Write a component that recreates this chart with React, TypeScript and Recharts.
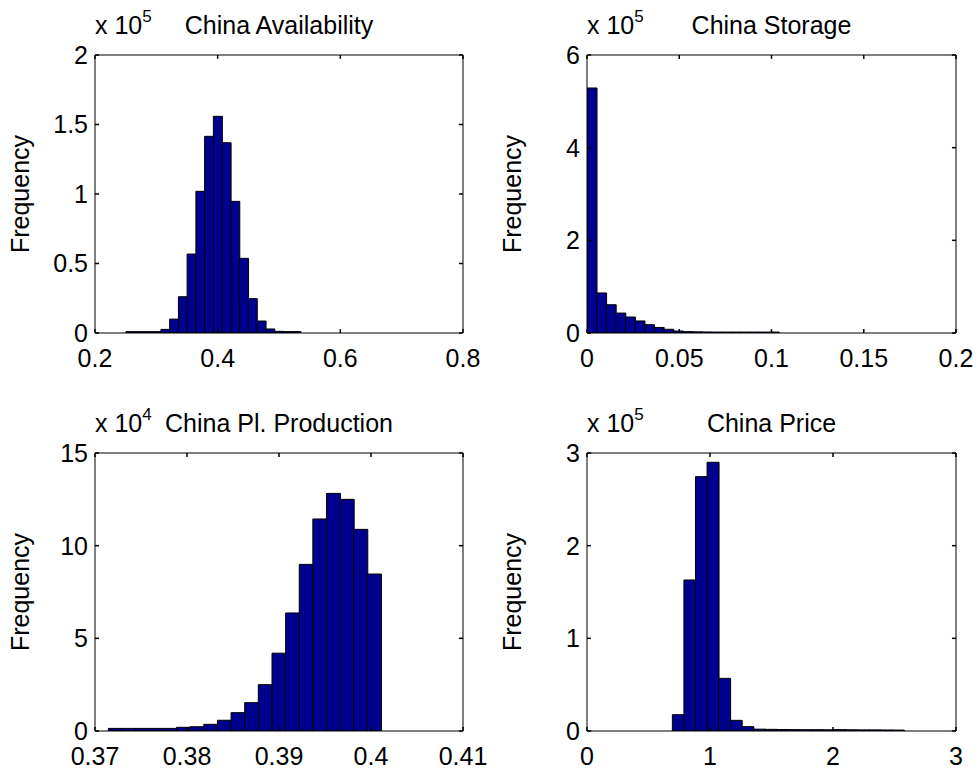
import React from "react";
import { BarChart, Bar, XAxis, YAxis, Label, ReferenceLine } from "recharts";

// bin centres and counts
const availBins = [
  0.2576, 0.2719, 0.2861, 0.3004, 0.3146, 0.3288, 0.3431, 0.3573, 0.3716, 0.3858,
  0.4001, 0.4143, 0.4285, 0.4428, 0.457, 0.4713, 0.4855, 0.4998, 0.514, 0.5282,
];
const availCounts = [
  1000, 1000, 1000, 1000, 2600, 10000, 26100, 56800, 101900, 141500,
  155900, 136900, 94700, 53700, 24700, 8600, 2900, 1200, 1000, 1000,
];

const storageBins = [
  0.0026, 0.0078, 0.013, 0.0182, 0.0234, 0.0286, 0.0338, 0.039, 0.0442, 0.0494,
  0.0546, 0.0598, 0.065, 0.0702, 0.0754, 0.0806, 0.0858, 0.091, 0.0962, 0.1014,
];
const storageCounts = [
  528800, 86400, 61000, 43000, 34500, 26000, 18000, 12000, 8000, 4300,
  3000, 2500, 2200, 2000, 2000, 2000, 2000, 2000, 2000, 2000,
];

const prodBins = [
  0.37219, 0.37367, 0.37516, 0.37664, 0.37812, 0.3796, 0.38108, 0.38257, 0.38405, 0.38553,
  0.38701, 0.38849, 0.38998, 0.39146, 0.39294, 0.39442, 0.3959, 0.39739, 0.39887, 0.40035,
];
const prodCounts = [
  1400, 1400, 1400, 1400, 1400, 2000, 2300, 3600, 5800, 9900,
  15300, 25000, 42000, 63700, 89900, 114400, 128200, 125000, 108800, 84700,
];

const priceBins = [
  0.741, 0.835, 0.929, 1.023, 1.117, 1.211, 1.306, 1.4, 1.494, 1.588,
  1.682, 1.776, 1.87, 1.964, 2.058, 2.153, 2.247, 2.341, 2.435, 2.529,
];
const priceCounts = [
  17600, 163000, 274500, 290000, 56800, 11500, 4700, 2000, 1800, 1600,
  1500, 1400, 1400, 1300, 1500, 1300, 1200, 1200, 1100, 1000,
];

const availXTicks = [0.2, 0.4, 0.6, 0.8];
const storageXTicks = [0, 0.05, 0.1, 0.15, 0.2];
const prodXTicks = [0.37, 0.38, 0.39, 0.4, 0.41];
const priceXTicks = [0, 1, 2, 3];

const availYTicks = [0, 50000, 100000, 150000, 200000];
const storageYTicks = [0, 200000, 400000, 600000];
const prodYTicks = [0, 50000, 100000, 150000];
const priceYTicks = [0, 100000, 200000, 300000];

const FONT = 25;
const BAR_FILL = "#00008f";
// matlab style inward tick length, as a share of each axis range
const TICK_X = 0.011;
const TICK_Y = 0.014;

type PanelProps = {
  title: string;
  exp: number;
  bins: number[];
  counts: number[];
  xTicks: number[];
  yTicks: number[];
  left: number;
  top: number;
  width: number;
};

const Panel = ({ title, exp, bins, counts, xTicks, yTicks, left, top, width }: PanelProps) => {
  const data = bins.map((b, i) => ({ x: b, count: counts[i] }));
  const x0 = xTicks[0];
  const x1 = xTicks[xTicks.length - 1];
  const y0 = yTicks[0];
  const y1 = yTicks[yTicks.length - 1];
  const dx = (x1 - x0) * TICK_X;
  const dy = (y1 - y0) * TICK_Y;
  const scale = Math.pow(10, exp);
  const tickStyle = { stroke: "#000", strokeWidth: 1.5 };
  return (
    <div style={{ position: "absolute", left, top }}>
      <BarChart
        width={width}
        height={371}
        data={data}
        margin={{ top: 54, right: 25, left: 0, bottom: 0 }}
        barCategoryGap={0}
        barGap={0}
      >
        <XAxis
          dataKey="x"
          type="number"
          domain={[x0, x1]}
          ticks={xTicks}
          interval={0}
          allowDataOverflow
          height={38}
          tickSize={0}
          tickMargin={16}
          tickLine={false}
          tick={{ fill: "#000", fontSize: FONT }}
          axisLine={{ stroke: "#000" }}
        />
        <XAxis
          xAxisId="top"
          orientation="top"
          dataKey="x"
          type="number"
          domain={[x0, x1]}
          ticks={xTicks}
          allowDataOverflow
          height={1}
          tickLine={false}
          tick={false}
          axisLine={{ stroke: "#000" }}
        >
          <Label
            content={(p: any) => {
              const vb = p.viewBox;
              return (
                <text
                  x={vb.x + vb.width / 2}
                  y={vb.y + vb.height - 21}
                  textAnchor="middle"
                  fontSize={FONT}
                  fill="#000"
                >
                  {title}
                </text>
              );
            }}
          />
          <Label
            content={(p: any) => {
              const vb = p.viewBox;
              return (
                <text x={vb.x} y={vb.y + vb.height - 21} fontSize={FONT} fill="#000">
                  x 10
                  <tspan dy={-12} fontSize={17}>
                    {exp}
                  </tspan>
                </text>
              );
            }}
          />
        </XAxis>
        <YAxis
          type="number"
          domain={[y0, y1]}
          ticks={yTicks}
          interval={0}
          allowDataOverflow
          width={95}
          tickSize={0}
          tickMargin={7}
          tickLine={false}
          tick={{ fill: "#000", fontSize: FONT }}
          tickFormatter={(v: number) => String(Math.round((v / scale) * 10) / 10)}
          axisLine={{ stroke: "#000" }}
        >
          <Label
            content={(p: any) => {
              const vb = p.viewBox;
              const cx = vb.x + 29;
              const cy = vb.y + vb.height / 2;
              return (
                <text
                  x={cx}
                  y={cy}
                  transform={`rotate(-90 ${cx} ${cy})`}
                  textAnchor="middle"
                  fontSize={FONT}
                  fill="#000"
                >
                  Frequency
                </text>
              );
            }}
          />
        </YAxis>
        <YAxis
          yAxisId="right"
          orientation="right"
          type="number"
          domain={[y0, y1]}
          ticks={yTicks}
          width={1}
          tickLine={false}
          tick={false}
          axisLine={{ stroke: "#000" }}
        />
        <Bar dataKey="count" fill={BAR_FILL} stroke="#000" strokeWidth={1} isAnimationActive={false} />
        {xTicks.map((t) => (
          <ReferenceLine key={`xb${t}`} segment={[{ x: t, y: y0 }, { x: t, y: y0 + dy }]} {...tickStyle} ifOverflow="visible" />
        ))}
        {xTicks.map((t) => (
          <ReferenceLine key={`xt${t}`} segment={[{ x: t, y: y1 }, { x: t, y: y1 - dy }]} {...tickStyle} ifOverflow="visible" />
        ))}
        {yTicks.map((t) => (
          <ReferenceLine key={`yl${t}`} segment={[{ x: x0, y: t }, { x: x0 + dx, y: t }]} {...tickStyle} ifOverflow="visible" />
        ))}
        {yTicks.map((t) => (
          <ReferenceLine key={`yr${t}`} segment={[{ x: x1, y: t }, { x: x1 - dx, y: t }]} {...tickStyle} ifOverflow="visible" />
        ))}
      </BarChart>
    </div>
  );
};

export default function App() {
  return (
    <div
      style={{
        position: "absolute",
        left: 0,
        top: 0,
        width: 978,
        height: 769,
        background: "#fff",
        fontFamily: "'Liberation Sans', Arial, sans-serif",
      }}
    >
      <Panel title="China Availability" exp={5} bins={availBins} counts={availCounts}
        xTicks={availXTicks} yTicks={availYTicks} left={0} top={0} width={489} />
      <Panel title="China Storage" exp={5} bins={storageBins} counts={storageCounts}
        xTicks={storageXTicks} yTicks={storageYTicks} left={492} top={0} width={490} />
      <Panel title="China Pl. Production" exp={4} bins={prodBins} counts={prodCounts}
        xTicks={prodXTicks} yTicks={prodYTicks} left={0} top={398} width={489} />
      <Panel title="China Price" exp={5} bins={priceBins} counts={priceCounts}
        xTicks={priceXTicks} yTicks={priceYTicks} left={492} top={398} width={490} />
    </div>
  );
}
